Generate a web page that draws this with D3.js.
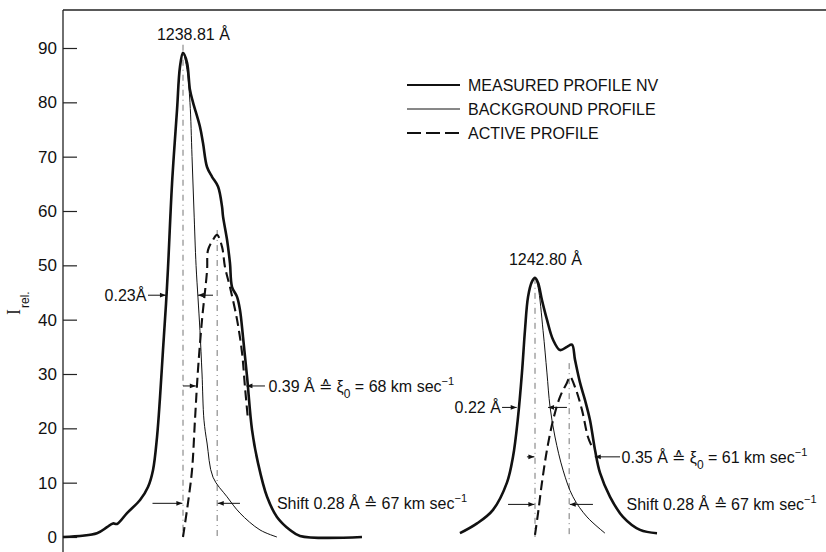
<!DOCTYPE html>
<html>
<head>
<meta charset="utf-8">
<script src="https://cdn.jsdelivr.net/npm/d3@7"></script>
<style>
  body { margin: 0; background: #fff; }
  svg { display: block; font-family: "Liberation Sans", Arial, sans-serif; }
</style>
</head>
<body>
<div id="chart"></div>
<script>
// N V doublet profiles, x = offset from line centre in Angstrom, y = I rel.
const yTicks = [0, 10, 20, 30, 40, 50, 60, 70, 80, 90];

const lines = [
  { name: "1238.81 Å", centre: 1238.81 },
  { name: "1242.80 Å", centre: 1242.80 }
];

// line 1 (1238.81)
const measured1 = [
  [-0.984, 0], [-0.705, 0.7], [-0.623, 1.8], [-0.574, 2.5], [-0.541, 2.4], [-0.459, 4.4],
  [-0.352, 6.8], [-0.287, 9.2], [-0.246, 12.3], [-0.213, 18.4], [-0.189, 25.5], [-0.164, 34.4],
  [-0.139, 43], [-0.123, 49.5], [-0.09, 65], [-0.049, 78.6], [-0.025, 86.5], [0, 89.1],
  [0.033, 87.3], [0.057, 82.3], [0.082, 80], [0.139, 75.5], [0.164, 72.5], [0.197, 68.1],
  [0.238, 66.3], [0.287, 64.5], [0.32, 60.8], [0.328, 59], [0.361, 54.7], [0.385, 50.4],
  [0.402, 46], [0.443, 44.2], [0.467, 41.8], [0.492, 36.8], [0.525, 29.5], [0.566, 19.7],
  [0.615, 13.6], [0.689, 7.4], [0.77, 3.7], [0.877, 1.3], [0.959, 0.2], [1.467, 0]
];
const background1 = [
  [-0.984, 0], [-0.705, 0.7], [-0.623, 1.8], [-0.574, 2.5], [-0.541, 2.4], [-0.459, 4.4],
  [-0.352, 6.8], [-0.287, 9.2], [-0.246, 12.3], [-0.213, 18.4], [-0.189, 25.5], [-0.164, 34.4],
  [-0.139, 43], [-0.123, 49.5], [-0.09, 65], [-0.049, 78.6], [-0.025, 86.5], [0, 89.1],
  [0.033, 86], [0.057, 80], [0.074, 70], [0.09, 60], [0.107, 50], [0.123, 44], [0.139, 38],
  [0.156, 30], [0.172, 21.5], [0.197, 17.3], [0.246, 11], [0.361, 7.4], [0.467, 4.4],
  [0.631, 1.3], [0.77, 0]
];
const active1 = [
  [0, 0], [0.041, 6.3], [0.074, 12.3], [0.098, 21.5], [0.123, 30.8], [0.156, 40],
  [0.197, 49], [0.205, 52.8], [0.246, 54.7], [0.279, 55.6], [0.32, 53.4], [0.344, 49.7],
  [0.385, 46], [0.443, 40], [0.484, 33.9], [0.508, 27.6], [0.533, 21.5]
];

// line 2 (1242.80)
const measured2 = [
  [-0.615, 0.7], [-0.475, 2.5], [-0.344, 5], [-0.23, 10], [-0.18, 14.8], [-0.139, 22.1],
  [-0.107, 30.2], [-0.082, 38.1], [-0.057, 44.2], [-0.025, 47], [0, 47.7], [0.025, 46.8],
  [0.057, 43.6], [0.098, 40], [0.148, 36.3], [0.205, 34.4], [0.262, 35], [0.303, 35.4],
  [0.328, 32.6], [0.369, 28.4], [0.41, 25.2], [0.451, 21.5], [0.492, 16], [0.533, 11.8],
  [0.615, 7.4], [0.721, 3.7], [0.861, 1.3], [1.0, 0.7]
];
const background2 = [
  [-0.615, 0.7], [-0.475, 2.5], [-0.344, 5], [-0.23, 10], [-0.18, 14.8], [-0.139, 22.1],
  [-0.107, 30.2], [-0.082, 38.1], [-0.057, 44.2], [-0.025, 47], [0, 47.7], [0.025, 46],
  [0.066, 38], [0.098, 30.2], [0.123, 24], [0.164, 18.4], [0.23, 12.3], [0.311, 7.4],
  [0.426, 3.7], [0.574, 0.7]
];
const active2 = [
  [0, 0.4], [0.025, 4.4], [0.057, 10], [0.098, 16], [0.148, 21.5], [0.205, 25.8],
  [0.262, 28.4], [0.287, 29.5], [0.328, 27.6], [0.385, 23.4], [0.434, 18.4], [0.467, 16.6]
];

const shift = 0.28;
// vertical reference lines: [line, offset, top value]
const refLines = [[0, 0, 90.6], [0, shift, 56.5], [1, 0, 47.7], [1, shift, 32]];

// arrows: [line, y, from, to]
const arrows = [
  [0, 44.5, -0.287, -0.14], [0, 44.5, 0.246, 0.122],
  [0, 27.8, 0, 0.105], [0, 27.8, 0.672, 0.52],
  [0, 6.2, -0.25, -0.005], [0, 6.2, 0.467, 0.285],
  [1, 23.85, -0.27, -0.15], [1, 23.85, 0.262, 0.107],
  [1, 14.75, -0.066, -0.005], [1, 14.75, 0.697, 0.49],
  [1, 6, -0.221, -0.005], [1, 6, 0.475, 0.285]
];

// annotations: [line, y, x, anchor, parts]
const notes = [
  [0, 44.5, -0.3, "end", [["0.23Å"]]],
  [0, 27.8, 0.7, "start", [["0.39 Å ≙ ξ"], ["0", "sub"], [" = 68 km sec"], ["−1", "sup"]]],
  [0, 6.2, 0.77, "start", [["Shift 0.28 Å ≙ 67 km sec"], ["−1", "sup"]]],
  [1, 23.85, -0.28, "end", [["0.22 Å"]]],
  [1, 14.75, 0.71, "start", [["0.35 Å ≙ ξ"], ["0", "sub"], [" = 61 km sec"], ["−1", "sup"]]],
  [1, 6, 0.75, "start", [["Shift 0.28 Å ≙ 67 km sec"], ["−1", "sup"]]]
];

const legendItems = ["MEASURED PROFILE NV", "BACKGROUND PROFILE", "ACTIVE PROFILE"];

const width = 826, height = 552;
const svg = d3.select("#chart").append("svg")
  .attr("width", width).attr("height", height);

const y = d3.scaleLinear().domain([0, 90]).range([537, 48]);
// the two lines are drawn on separate pieces of the wavelength axis, same dispersion
const xs = [
  d3.scaleLinear().domain([-1, 1.5]).range([61, 366]),
  d3.scaleLinear().domain([-1, 1.5]).range([413, 718])
];

// frame
svg.append("line").attr("x1", 63).attr("x2", width).attr("y1", 10).attr("y2", 10)
  .attr("stroke", "#222").attr("stroke-width", 1.3);
svg.append("line").attr("x1", 63).attr("x2", 63).attr("y1", 10).attr("y2", height)
  .attr("stroke", "#222").attr("stroke-width", 1.3);

svg.append("g")
  .attr("transform", "translate(63,0)")
  .call(d3.axisLeft(y).tickValues(yTicks).tickSizeInner(-14).tickSizeOuter(0).tickPadding(6))
  .call(g => g.select(".domain").remove())
  .call(g => g.selectAll(".tick line").attr("stroke", "#222").attr("stroke-width", 1.2))
  .call(g => g.selectAll(".tick text").attr("font-size", 17).attr("fill", "#111")
    .attr("font-family", "Liberation Sans, sans-serif"));

// y label
const ylab = svg.append("text")
  .attr("transform", "translate(20,315) rotate(-90)")
  .attr("fill", "#111");
ylab.append("tspan").attr("font-family", "Liberation Serif, serif").attr("font-size", 18).text("I");
ylab.append("tspan").attr("font-size", 12).attr("dy", 9).attr("dx", 1).text("rel.");

// arrow marker
svg.append("defs").append("marker")
  .attr("id", "ah").attr("viewBox", "0 0 10 10").attr("refX", 10).attr("refY", 5)
  .attr("markerWidth", 7).attr("markerHeight", 6).attr("markerUnits", "userSpaceOnUse")
  .attr("orient", "auto")
  .append("path").attr("d", "M0,1L10,5L0,9Z").attr("fill", "#111");

// reference lines at line centres and shifted centres
svg.append("g").selectAll("line").data(refLines).join("line")
  .attr("x1", d => xs[d[0]](d[1])).attr("x2", d => xs[d[0]](d[1]))
  .attr("y1", d => y(d[2])).attr("y2", y(0))
  .attr("stroke", "#666").attr("stroke-width", 0.9)
  .attr("stroke-dasharray", "6,4,1,4");

const curve = d3.curveCatmullRom.alpha(0.5);
const profiles = [
  [0, background1, 1, null], [1, background2, 1, null],
  [0, measured1, 2.6, null], [1, measured2, 2.6, null],
  [0, active1, 2.1, "10,5"], [1, active2, 2.1, "10,5"]
];
svg.append("g").selectAll("path").data(profiles).join("path")
  .attr("d", d => d3.line().curve(curve).x(p => xs[d[0]](p[0])).y(p => y(p[1]))(d[1]))
  .attr("fill", "none").attr("stroke", "#111")
  .attr("stroke-width", d => d[2])
  .attr("stroke-dasharray", d => d[3])
  .attr("stroke-linejoin", "round");

// arrows
svg.append("g").selectAll("line").data(arrows).join("line")
  .attr("x1", d => xs[d[0]](d[2])).attr("x2", d => xs[d[0]](d[3]))
  .attr("y1", d => y(d[1])).attr("y2", d => y(d[1]))
  .attr("stroke", "#111").attr("stroke-width", 1)
  .attr("marker-end", "url(#ah)");

// annotations
notes.forEach(n => {
  const t = svg.append("text")
    .attr("x", xs[n[0]](n[2])).attr("y", y(n[1]) + 6)
    .attr("text-anchor", n[3]).attr("font-size", 16).attr("fill", "#111");
  n[4].forEach(p => {
    const s = t.append("tspan").text(p[0]);
    if (p[1] === "sub") s.attr("font-size", 12).attr("dy", 6);
    else if (p[1] === "sup") s.attr("font-size", 11).attr("dy", -7);
    else if (p[0].startsWith(" =")) s.attr("dy", -6);
  });
});

// peak labels
const peaks = [[0, 89.1], [1, 47.7]];
svg.append("g").selectAll("text").data(peaks).join("text")
  .attr("x", d => xs[d[0]](0.085)).attr("y", d => y(d[1]) - 13)
  .attr("text-anchor", "middle").attr("font-size", 16).attr("fill", "#111")
  .text(d => lines[d[0]].name);

// legend
const legend = svg.append("g").attr("transform", "translate(407,85)");
legendItems.forEach((name, i) => {
  const g = legend.append("g").attr("transform", `translate(0,${i * 24})`);
  g.append("line").attr("x1", 0).attr("x2", 53).attr("y1", 0).attr("y2", 0)
    .attr("stroke", "#111")
    .attr("stroke-width", [2.2, 1, 2][i])
    .attr("stroke-dasharray", i === 2 ? "14,5" : null);
  g.append("text").attr("x", 61).attr("y", 6).attr("font-size", 16)
    .attr("fill", "#111").text(name);
});
</script>
</body>
</html>
